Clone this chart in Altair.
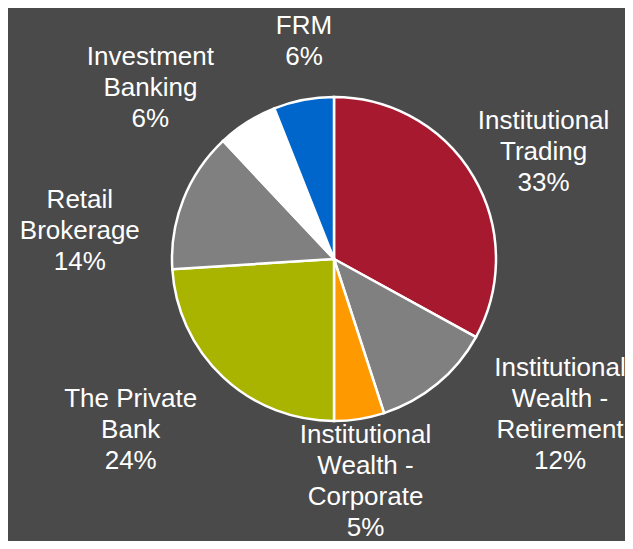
import altair as alt
import pandas as pd

segments = [
    "Institutional Trading",
    "Institutional Wealth - Retirement",
    "Institutional Wealth - Corporate",
    "The Private Bank",
    "Retail Brokerage",
    "Investment Banking",
    "FRM",
]
label_lines = [
    "Institutional\nTrading",
    "Institutional\nWealth -\nRetirement",
    "Institutional\nWealth -\nCorporate",
    "The Private\nBank",
    "Retail\nBrokerage",
    "Investment\nBanking",
    "FRM",
]
shares = [33, 12, 5, 24, 14, 6, 6]
colors = ["#A6192E", "#808080", "#FF9900", "#A8B400", "#808080", "#FFFFFF", "#0066CC"]

df = pd.DataFrame({
    "segment": segments,
    "share": shares,
    "order": list(range(len(segments))),
    "label": [f"{l}\n{s}%" for l, s in zip(label_lines, shares)],
})

CX, CY = 326, 251

base = alt.Chart(df).encode(
    theta=alt.Theta("share:Q", stack=True),
    order=alt.Order("order:Q"),
    x=alt.value(CX),
    y=alt.value(CY),
)

pie = base.mark_arc(outerRadius=162, stroke="white", strokeWidth=2.5).encode(
    color=alt.Color("segment:N", scale=alt.Scale(domain=segments, range=colors), legend=None)
)

# label offsets (dx, dy) from the radial anchor (first line), mimicking best-fit placement
label_offsets = {
    "Institutional Trading": (3, -16),
    "Institutional Wealth - Retirement": (73, -76),
    "Institutional Wealth - Corporate": (-6, -61),
    "The Private Bank": (-39, -35),
    "Retail Brokerage": (-31, 29),
    "Investment Banking": (-55, 1),
    "FRM": (15, 3),
}

layers = [pie]
for seg, (dx, dy) in label_offsets.items():
    layers.append(
        base.transform_calculate(
            t=f"datum.segment == '{seg}' ? datum.label : ''"
        ).mark_text(
            radius=240, dx=dx, dy=dy, fontSize=26, font="Liberation Sans",
            color="white", lineBreak="\n", lineHeight=31,
            align="center", baseline="middle",
        ).encode(text="t:N")
    )

chart = alt.layer(*layers).properties(
    width=617, height=533,
    autosize=alt.AutoSizeParams(type="none"),
    padding=0,
).configure(background="#4a4a4a").configure_view(stroke=None)

chart.save("out.html", embed_options={"renderer": "svg", "actions": False})
